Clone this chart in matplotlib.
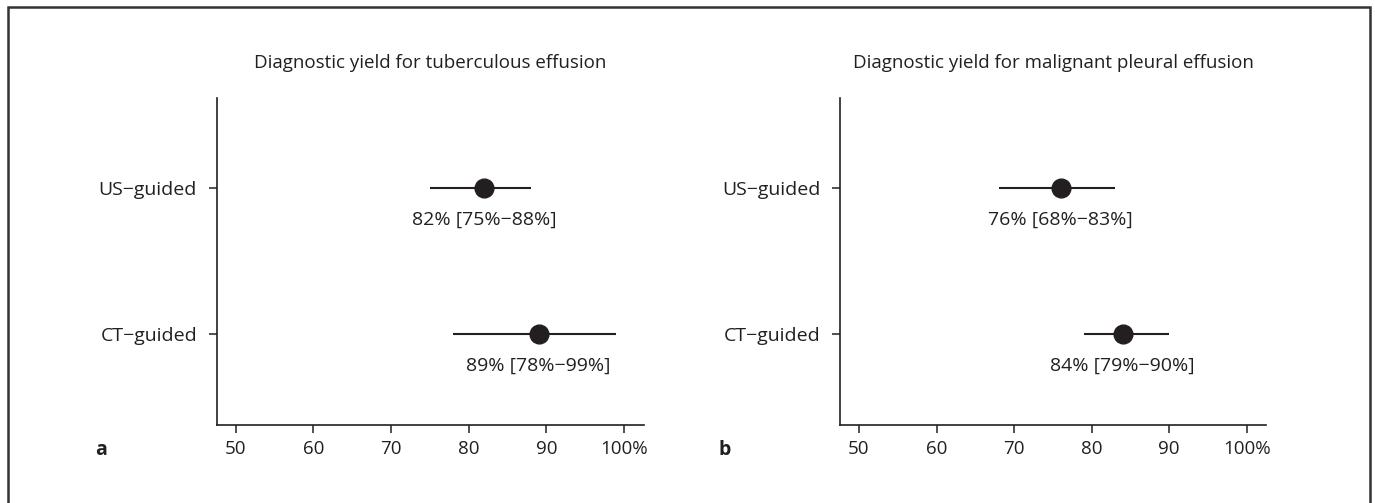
import matplotlib
matplotlib.use("Agg")
import matplotlib.pyplot as plt
from matplotlib.patches import Rectangle

plt.rcParams['font.family'] = ['Open Sans', 'DejaVu Sans']

# data
methods = ['CT−guided', 'US−guided']
tb_yield = [89, 82]
tb_low = [78, 75]
tb_high = [99, 88]
mpe_yield = [84, 76]
mpe_low = [79, 68]
mpe_high = [90, 83]
titles = ['Diagnostic yield for tuberculous effusion',
          'Diagnostic yield for malignant pleural effusion']
panel_letters = ['a', 'b']
xticks = [50, 60, 70, 80, 90, 100]
xtick_labels = ['50', '60', '70', '80', '90', '100%']

ink = '#231f20'
W, H = 1375, 503
fig = plt.figure(figsize=(W / 100, H / 100), dpi=100)

# outer frame
fig.patches.append(Rectangle((8 / W, -0.02), 1362 / W, 1.02 - 7 / H,
                             transform=fig.transFigure, fill=False,
                             edgecolor='#333333', linewidth=1.8))

boxes = [[216.5 / W, 0.155, 427 / W, 0.65],
         [840 / W, 0.155, 426 / W, 0.65]]
series = [(tb_yield, tb_low, tb_high), (mpe_yield, mpe_low, mpe_high)]

for i in range(2):
    ax = fig.add_axes(boxes[i])
    est, lo, hi = series[i]
    ypos = [1, 2]
    ax.hlines(ypos, lo, hi, color=ink, linewidth=1.5)
    ax.plot(est, ypos, 'o', color=ink, markersize=13.5, linestyle='none')
    for y, e, l, h in zip(ypos, est, lo, hi):
        ax.annotate(f'{e}% [{l}%−{h}%]', (e, y), xytext=(0, -22.5),
                    textcoords='offset points', ha='center', va='center',
                    fontsize=14, color=ink)
    ax.set_xlim(47.55, 102.5)
    ax.set_ylim(0.377, 2.616)
    ax.set_xticks(xticks)
    ax.set_xticklabels(xtick_labels)
    ax.set_yticks(ypos)
    ax.set_yticklabels(methods)
    for s in ['top', 'right']:
        ax.spines[s].set_visible(False)
    for s in ['left', 'bottom']:
        ax.spines[s].set_color(ink)
        ax.spines[s].set_linewidth(1.2)
    ax.tick_params(colors=ink, labelsize=13.5, length=6, width=1.1)
    ax.tick_params(axis='x', pad=5)
    ax.tick_params(axis='y', pad=8, labelsize=14)
    ax.set_title(titles[i], fontsize=13.5, color=ink, pad=22)
    ax.text(-0.285, -0.077, panel_letters[i], transform=ax.transAxes,
            fontsize=14, fontweight='bold', color=ink, va='center')

fig.savefig('out.png', dpi=100)
